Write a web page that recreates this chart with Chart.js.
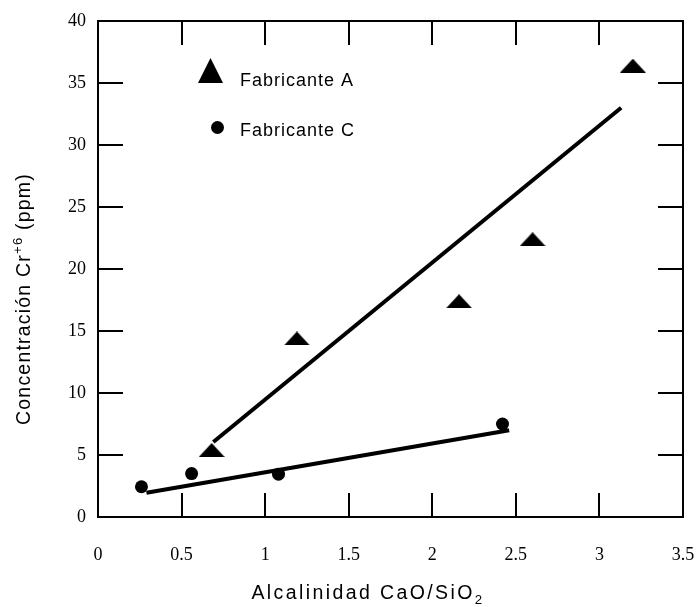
<!DOCTYPE html>
<html>
<head>
<meta charset="utf-8">
<script src="https://cdn.jsdelivr.net/npm/chart.js@4.4.1/dist/chart.umd.min.js"></script>
<style>
  html, body { margin: 0; padding: 0; background: #fff; }
  #wrap { width: 700px; height: 607px; }
</style>
</head>
<body>
<div id="wrap"><canvas id="chart" width="700" height="607"></canvas></div>
<script>
// values
const fabAx = [0.68, 1.19, 2.16, 2.6, 3.2];
const fabAy = [5.4, 14.4, 17.4, 22.4, 36.4];
const fabCx = [0.26, 0.56, 1.08, 2.42];
const fabCy = [2.44, 3.5, 3.45, 7.5];
const fitAx = [0.69, 3.13];
const fitAy = [6.05, 33.0];
const fitCx = [0.29, 2.46];
const fitCy = [1.95, 7.0];
const xTicks = [0, 0.5, 1, 1.5, 2, 2.5, 3, 3.5];
const yTicks = [0, 5, 10, 15, 20, 25, 30, 35, 40];
const seriesNames = ['Fabricante A', 'Fabricante C'];

function pts(xs, ys) {
  return xs.map((x, i) => ({ x: x, y: ys[i] }));
}

function makeTriangle(w, h) {
  const c = document.createElement('canvas');
  c.width = w;
  c.height = h;
  const g = c.getContext('2d');
  g.fillStyle = '#000';
  g.beginPath();
  g.moveTo(0, h);
  g.lineTo(w / 2, 0);
  g.lineTo(w, h);
  g.closePath();
  g.fill();
  return c;
}

const dataTri = makeTriangle(26, 14);
const legendTri = makeTriangle(25, 25);

// draws text made of parts with different sizes / offsets (sub and superscripts)
function drawRich(ctx, parts, size, spacing, x, y, align) {
  ctx.letterSpacing = spacing + 'px';
  let total = 0;
  parts.forEach(p => {
    ctx.font = (size * p.s) + 'px "Liberation Sans", Arial, sans-serif';
    p.w = ctx.measureText(p.t).width;
    total += p.w;
  });
  let cx = align === 'center' ? x - total / 2 : x;
  parts.forEach(p => {
    ctx.font = (size * p.s) + 'px "Liberation Sans", Arial, sans-serif';
    ctx.fillText(p.t, cx, y + p.dy);
    cx += p.w;
  });
  ctx.letterSpacing = '0px';
}

const framePlugin = {
  id: 'frame',
  afterDatasetsDraw(chart) {
    const ctx = chart.ctx;
    const a = chart.chartArea;
    const xs = chart.scales.x;
    const ys = chart.scales.y;
    ctx.save();
    ctx.strokeStyle = '#000';
    ctx.lineWidth = 2;
    ctx.beginPath();
    xTicks.slice(1, -1).forEach(v => {
      const px = Math.round(xs.getPixelForValue(v));
      ctx.moveTo(px, a.bottom);
      ctx.lineTo(px, a.bottom - 24);
      ctx.moveTo(px, a.top);
      ctx.lineTo(px, a.top + 24);
    });
    yTicks.slice(1, -1).forEach(v => {
      const py = Math.round(ys.getPixelForValue(v));
      ctx.moveTo(a.left, py);
      ctx.lineTo(a.left + 25, py);
      ctx.moveTo(a.right, py);
      ctx.lineTo(a.right - 25, py);
    });
    ctx.stroke();
    ctx.strokeRect(a.left, a.top, a.right - a.left, a.bottom - a.top);

    // legend inside the plot
    ctx.fillStyle = '#000';
    ctx.drawImage(legendTri, a.left + 100, a.top + 37);
    ctx.beginPath();
    ctx.arc(a.left + 119.5, a.top + 106.5, 6.5, 0, Math.PI * 2);
    ctx.fill();
    ctx.textBaseline = 'alphabetic';
    drawRich(ctx, [{ t: seriesNames[0], s: 1, dy: 0 }], 18, 1, a.left + 142, a.top + 65, 'left');
    drawRich(ctx, [{ t: seriesNames[1], s: 1, dy: 0 }], 18, 1, a.left + 142, a.top + 115, 'left');

    // axis titles
    drawRich(ctx, [
      { t: 'Alcalinidad CaO/SiO', s: 1, dy: 0 },
      { t: '2', s: 0.68, dy: 5 }
    ], 19.5, 2.4, 368, 599, 'center');

    ctx.translate(30, 299);
    ctx.rotate(-Math.PI / 2);
    drawRich(ctx, [
      { t: 'Concentración Cr', s: 1, dy: 0 },
      { t: '+6', s: 0.68, dy: -8 },
      { t: ' (ppm)', s: 1, dy: 0 }
    ], 19.5, 1.2, 0, 0, 'center');
    ctx.restore();
  }
};

const tickFont = { family: '"Liberation Serif", "Times New Roman", serif', size: 18 };

new Chart(document.getElementById('chart'), {
  type: 'scatter',
  data: {
    datasets: [
      {
        label: seriesNames[0],
        data: pts(fabAx, fabAy),
        pointStyle: dataTri,
        backgroundColor: '#000',
        borderColor: '#000'
      },
      {
        label: seriesNames[1],
        data: pts(fabCx, fabCy),
        pointStyle: 'circle',
        pointRadius: 6.5,
        backgroundColor: '#000',
        borderColor: '#000',
        borderWidth: 0
      },
      {
        label: 'ajuste A',
        data: pts(fitAx, fitAy),
        showLine: true,
        pointRadius: 0,
        borderColor: '#000',
        borderWidth: 4
      },
      {
        label: 'ajuste C',
        data: pts(fitCx, fitCy),
        showLine: true,
        pointRadius: 0,
        borderColor: '#000',
        borderWidth: 4
      }
    ]
  },
  options: {
    responsive: false,
    animation: false,
    layout: { autoPadding: false, padding: { top: 21, right: 17, left: 0, bottom: 0 } },
    plugins: {
      legend: { display: false },
      tooltip: { enabled: false }
    },
    scales: {
      x: {
        type: 'linear',
        min: 0,
        max: 3.5,
        afterBuildTicks: s => { s.ticks = xTicks.map(v => ({ value: v })); },
        afterFit: s => { s.height = 90; s.paddingLeft = 0; s.paddingRight = 0; },
        grid: { display: false, drawTicks: false },
        border: { display: false },
        ticks: { color: '#000', font: tickFont, padding: 27, callback: v => String(v) }
      },
      y: {
        type: 'linear',
        min: 0,
        max: 40,
        afterBuildTicks: s => { s.ticks = yTicks.map(v => ({ value: v })); },
        afterFit: s => { s.width = 98; s.paddingTop = 0; s.paddingBottom = 0; },
        grid: { display: false, drawTicks: false },
        border: { display: false },
        ticks: { color: '#000', font: tickFont, padding: 12, callback: v => String(v) }
      }
    }
  },
  plugins: [framePlugin]
});
</script>
</body>
</html>
